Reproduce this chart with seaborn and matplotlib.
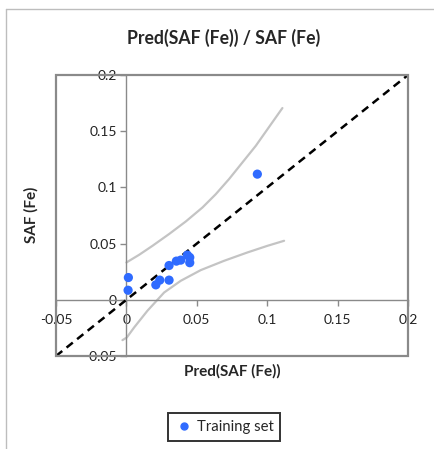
import matplotlib
matplotlib.use("Agg")
import matplotlib.pyplot as plt
from matplotlib.patches import Rectangle
from matplotlib.lines import Line2D
import seaborn as sns

sns.set_style("white")
plt.rcParams['font.family'] = ['Lato', 'DejaVu Sans']

# Data
pred = [0.0014, 0.0012, 0.0209, 0.0237, 0.0303, 0.0303, 0.0355, 0.0386, 0.0433, 0.0450, 0.0450, 0.0930]
obs  = [0.0198, 0.0085, 0.0133, 0.0175, 0.0175, 0.0305, 0.0344, 0.0353, 0.0398, 0.0377, 0.0330, 0.1118]

upper_x = [0.0000, 0.0090, 0.0185, 0.0303, 0.0422, 0.0540, 0.0635, 0.0729, 0.0919, 0.1108]
upper_y = [0.0332, 0.0400, 0.0480, 0.0585, 0.0697, 0.0821, 0.0940, 0.1074, 0.1370, 0.1706]
lower_x = [-0.0028, 0.0003, 0.0055, 0.0149, 0.0268, 0.0386, 0.0528, 0.0694, 0.0859, 0.1001, 0.1120]
lower_y = [-0.0359, -0.0335, -0.0246, -0.0098, 0.0065, 0.0169, 0.0264, 0.0347, 0.0421, 0.0480, 0.0525]

diag = [-0.05, 0.2]
ticks = [-0.05, 0, 0.05, 0.1, 0.15, 0.2]
tick_labels = ["-0.05", "0", "0.05", "0.1", "0.15", "0.2"]

title = "Pred(SAF (Fe)) / SAF (Fe)"
xlabel = "Pred(SAF (Fe))"
ylabel = "SAF (Fe)"
legend_label = "Training set"

fig = plt.figure(figsize=(4.35, 4.49), dpi=100)
ax = fig.add_axes([56/435, (449-356)/449, (408-56)/435, (356-75)/449])

gray = "#8a8a8a"
band = "#c4c4c4"
blue = "#2f6bff"

sns.lineplot(x=upper_x, y=upper_y, sort=False, estimator=None, color=band, lw=1.6, ax=ax)
sns.lineplot(x=lower_x, y=lower_y, sort=False, estimator=None, color=band, lw=1.6, ax=ax)
sns.lineplot(x=diag, y=diag, color="black", lw=1.8, linestyle=(0, (3.2, 2.2)), ax=ax, zorder=3)
sns.scatterplot(x=pred, y=obs, color=blue, s=44, edgecolor="none", ax=ax, zorder=4)

ax.set_xlim(-0.05, 0.2)
ax.set_ylim(-0.05, 0.2)
ax.set_xticks(ticks)
ax.set_yticks(ticks)
ax.set_xticklabels(tick_labels)
ax.set_yticklabels(tick_labels)

for s in ["top", "right"]:
    ax.spines[s].set_visible(False)
ax.spines["left"].set_position(("data", 0))
ax.spines["bottom"].set_position(("data", 0))
for s in ["left", "bottom"]:
    ax.spines[s].set_color(gray)
    ax.spines[s].set_linewidth(1.0)

ax.tick_params(axis="both", direction="out", length=4, width=1.0, color=gray,
               labelsize=10, labelcolor="#222222", pad=3)
ax.tick_params(axis="x", pad=6)
ax.xaxis.set_ticks_position("bottom")
ax.yaxis.set_ticks_position("left")
ax.set_xlabel("")
ax.set_ylabel("")

ax.add_patch(Rectangle((0, 0), 1, 1, transform=ax.transAxes, fill=False,
                       edgecolor=gray, lw=1.6, clip_on=False, zorder=5))

fig.text(224/435, 1-38/449, title, ha="center", va="center", fontsize=12.7, fontweight="bold")
fig.text(232/435, 1-371/449, xlabel, ha="center", va="center", fontsize=11, fontweight="bold")
fig.text(31/435, 1-215/449, ylabel, ha="center", va="center", rotation=90, fontsize=11, fontweight="bold")

# figure frame (top and left edges)
fig.add_artist(Line2D([6.5/435, 1], [1-9/449, 1-9/449], color="#bdbdbd", lw=1.0))
fig.add_artist(Line2D([6.5/435, 6.5/435], [0, 1-9/449], color="#bdbdbd", lw=1.0))

handle = Line2D([], [], marker="o", color=blue, linestyle="none", markersize=5)
leg = fig.legend([handle], [legend_label], loc="center", bbox_to_anchor=(224/435, 1-427/449),
                 frameon=True, fancybox=False, fontsize=10.7, handletextpad=0.2,
                 borderpad=0.45, handlelength=1.3)
leg.get_frame().set_edgecolor("black")
leg.get_frame().set_linewidth(1.4)

fig.savefig("out.png", dpi=100)
